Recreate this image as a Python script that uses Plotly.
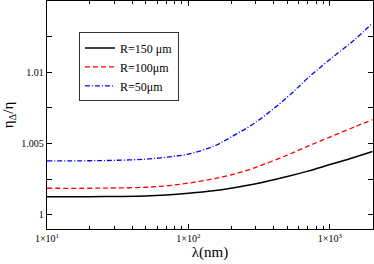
import plotly.graph_objects as go

wavelength_nm = [10, 20, 30, 50, 70, 100, 150, 200, 300, 500, 700, 1000, 1500, 2000]
eta_R150 = [1.00127, 1.00127, 1.00128, 1.00131, 1.00138, 1.00150, 1.00168, 1.00186, 1.00217, 1.00268, 1.00306, 1.00352, 1.00404, 1.00444]
eta_R100 = [1.00186, 1.00186, 1.00188, 1.00193, 1.00203, 1.00222, 1.00252, 1.00280, 1.00333, 1.00419, 1.00481, 1.00545, 1.00617, 1.00667]
eta_R50 = [1.00378, 1.00379, 1.00382, 1.00390, 1.00404, 1.00426, 1.00480, 1.00545, 1.00650, 1.00825, 1.00960, 1.01090, 1.01229, 1.01345]

series_names = ["R=150 μm", "R=100μm", "R=50μm"]
x_tickvals = [10, 100, 1000]
x_ticktext = ["1×10<sup>1</sup>", "1×10<sup>2</sup>", "1×10<sup>3</sup>"]
y_tickvals = [1, 1.005, 1.01]
y_ticktext = ["1", "1.005", "1.01"]

serif = "Liberation Serif"

fig = go.Figure()
fig.add_trace(go.Scatter(x=wavelength_nm, y=eta_R150, mode="lines", name=series_names[0],
                         line=dict(color="black", width=1.5, shape="spline", smoothing=1.0)))
fig.add_trace(go.Scatter(x=wavelength_nm, y=eta_R100, mode="lines", name=series_names[1],
                         line=dict(color="#ff0000", width=1.3, dash="5px,3px", shape="spline", smoothing=1.0)))
fig.add_trace(go.Scatter(x=wavelength_nm, y=eta_R50, mode="lines", name=series_names[2],
                         line=dict(color="#0000ff", width=1.3, dash="5px,2px,1px,2px", shape="spline", smoothing=1.0)))

fig.update_layout(
    width=374, height=264,
    margin=dict(l=47, r=1, t=1, b=35),
    paper_bgcolor="white", plot_bgcolor="white",
    font=dict(family=serif, color="black", size=10),
    showlegend=True,
    legend=dict(x=0.098, y=0.862, xanchor="left", yanchor="top",
                bgcolor="white", bordercolor="#333333", borderwidth=1,
                font=dict(family=serif, size=12), itemwidth=30,
                tracegroupgap=0),
    xaxis=dict(type="log", range=[1, 3.305], automargin=False,
               tickvals=x_tickvals, ticktext=x_ticktext,
               ticks="inside", ticklen=5, tickwidth=1, tickcolor="black",
               minor=dict(ticks="inside", ticklen=3, tickcolor="black", dtick="D1", showgrid=False),
               showline=True, linecolor="black", linewidth=1.3, mirror="ticks",
               showgrid=False, zeroline=False,
               tickfont=dict(family=serif, size=10),
               title=dict(text="λ(nm)", font=dict(family=serif, size=15), standoff=0)),
    yaxis=dict(range=[0.999, 1.015], automargin=False,
               tickvals=y_tickvals, ticktext=y_ticktext,
               ticks="inside", ticklen=5, tickwidth=1, tickcolor="black",
               minor=dict(ticks="inside", ticklen=5, tickcolor="black", dtick=0.0025, showgrid=False),
               showline=True, linecolor="black", linewidth=1.3, mirror="ticks",
               showgrid=False, zeroline=False,
               tickfont=dict(family=serif, size=10),
               title=dict(text="η<sub>Δ</sub>/η", font=dict(family=serif, size=15), standoff=6)),
)

fig.write_html("out.html", config={"displayModeBar": False},
               post_script="document.body.style.margin='0';document.body.style.overflow='hidden';")
